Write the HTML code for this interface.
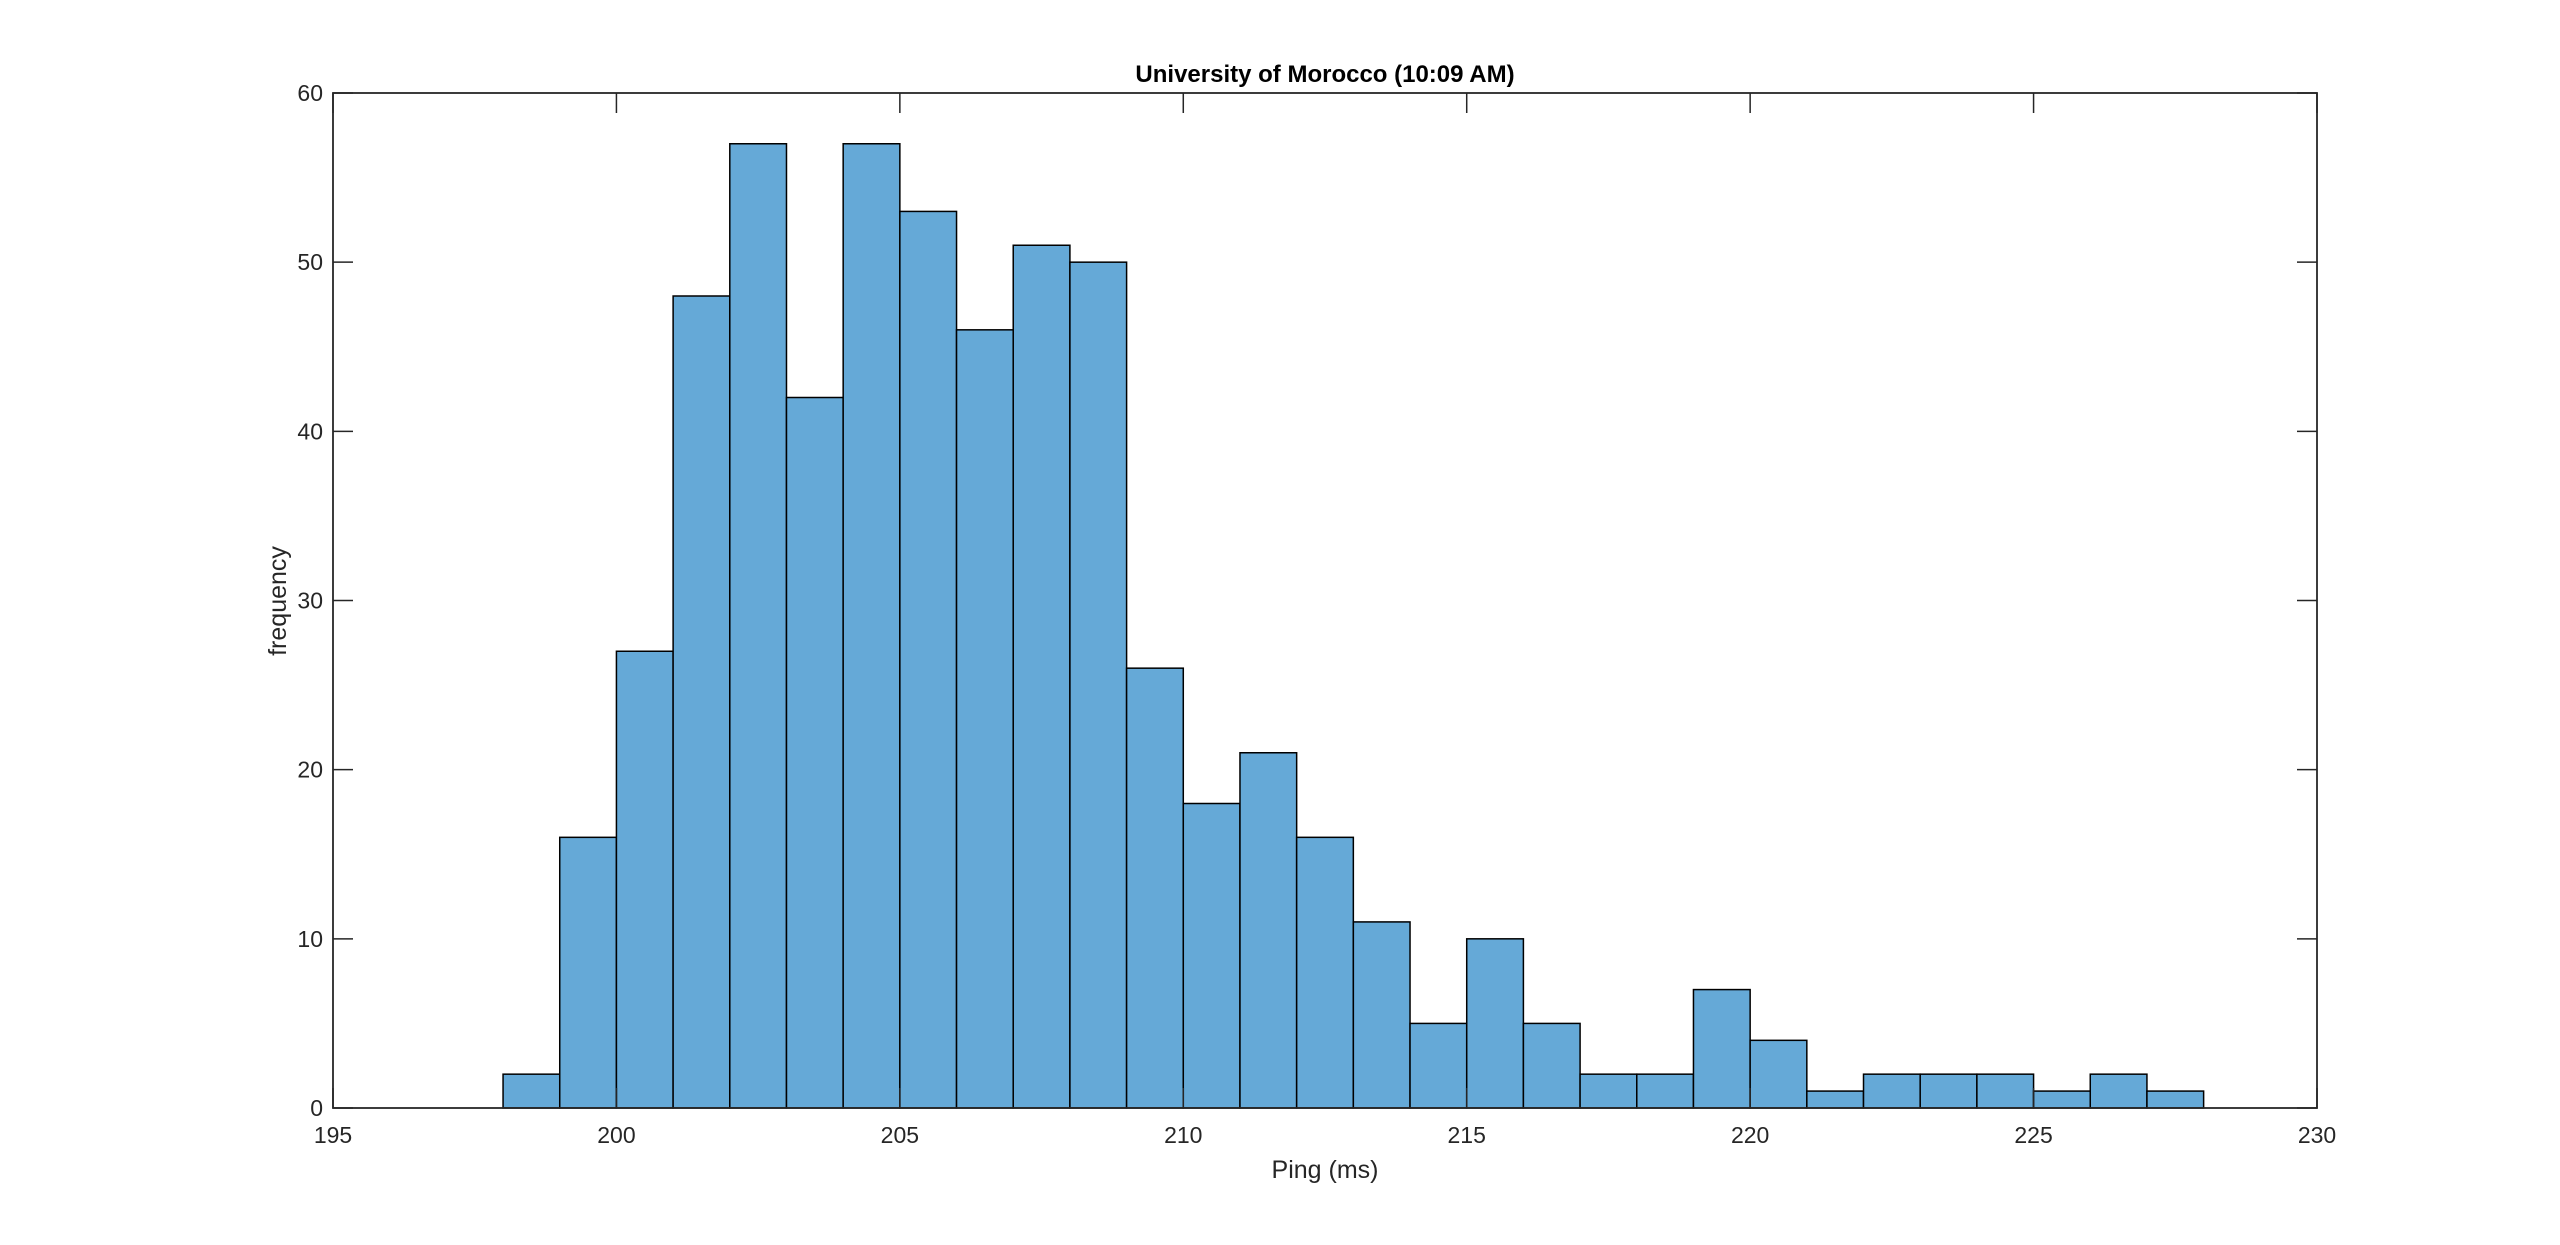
<!DOCTYPE html>
<html><head><meta charset="utf-8"><style>
html,body{margin:0;padding:0;background:#fff;}
svg{display:block;font-family:"Liberation Sans",Arial,sans-serif;}
</style></head><body>
<svg id="chart" width="2560" height="1245" xmlns="http://www.w3.org/2000/svg">
<rect width="2560" height="1245" fill="#fff"/>
<g id="bars"></g>
<g id="axes"></g>
<text x="1325" y="82" text-anchor="middle" font-size="24" font-weight="bold" fill="#000">University of Morocco (10:09 AM)</text>
<text x="1325" y="1178" text-anchor="middle" font-size="25" fill="#262626">Ping (ms)</text>
<text x="0" y="0" transform="translate(286,601) rotate(-90)" text-anchor="middle" font-size="25" fill="#262626">frequency</text>
</svg>
<script>
const binStart = 198;
const binWidth = 1;
const counts = [2,16,27,48,57,42,57,53,46,51,50,26,18,21,16,11,5,10,5,2,2,7,4,1,2,2,2,1,2,1];
const xTicks = [195,200,205,210,215,220,225,230];
const yTicks = [0,10,20,30,40,50,60];

const L=333,R=2317,T=93,B=1108;
const xMin=195,xMax=230,yMin=0,yMax=60;
const xs=v=>L+(v-xMin)/(xMax-xMin)*(R-L);
const ys=v=>B-(v-yMin)/(yMax-yMin)*(B-T);
const NS="http://www.w3.org/2000/svg";
const bars=document.getElementById('bars');
counts.forEach((c,i)=>{
  const x0=xs(binStart+i*binWidth), x1=xs(binStart+(i+1)*binWidth);
  const r=document.createElementNS(NS,'rect');
  
  
  r.setAttribute('x',x0);r.setAttribute('y',ys(c));
  r.setAttribute('width',x1-x0);r.setAttribute('height',ys(0)-ys(c));
  r.setAttribute('fill','#65a9d7');r.setAttribute('stroke','#000');r.setAttribute('stroke-width','1.5');
  bars.appendChild(r);
});
const axes=document.getElementById('axes');
const box=document.createElementNS(NS,'rect');


box.setAttribute('x',L);box.setAttribute('y',T);box.setAttribute('width',R-L);box.setAttribute('height',B-T);
box.setAttribute('fill','none');box.setAttribute('stroke','#262626');box.setAttribute('stroke-width','1.8');
axes.appendChild(box);
function line(x1,y1,x2,y2,name){const l=document.createElementNS(NS,'line');
  
  
  l.setAttribute('x1',x1);l.setAttribute('y1',y1);l.setAttribute('x2',x2);l.setAttribute('y2',y2);
  l.setAttribute('stroke','#262626');l.setAttribute('stroke-width','1.5');axes.appendChild(l);}
function text(x,y,s,anchor,name){const t=document.createElementNS(NS,'text');
  
  
  t.setAttribute('x',x);t.setAttribute('y',y);t.setAttribute('text-anchor',anchor);
  t.setAttribute('font-size','23');t.setAttribute('fill','#262626');t.textContent=s;axes.appendChild(t);}
xTicks.forEach(v=>{const x=xs(v);
  line(x,B,x,B-20,'x-tick');line(x,T,x,T+20,'x-tick-top');
  text(x,B+35,String(v),'middle','x-tick-label');});
yTicks.forEach(v=>{const y=ys(v);
  line(L,y,L+20,y,'y-tick');line(R,y,R-20,y,'y-tick-right');
  text(L-10,y+8,String(v),'end','y-tick-label');});
</script>
</body></html>
